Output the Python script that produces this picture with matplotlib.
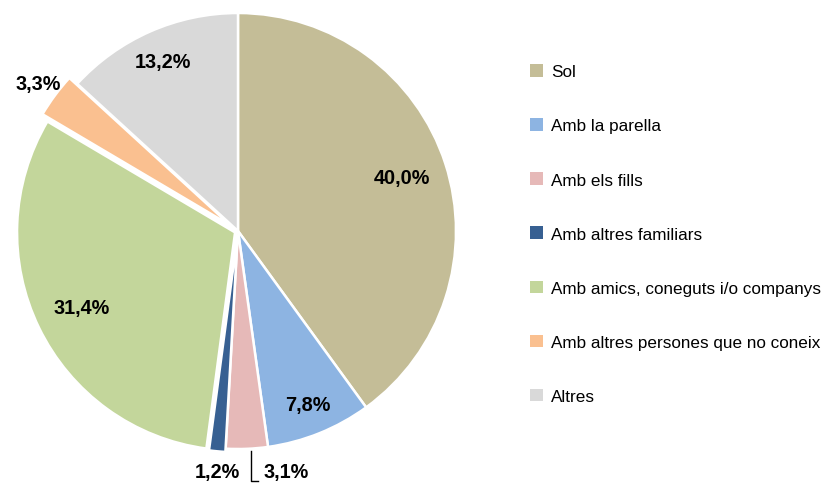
import numpy as np
import matplotlib.pyplot as plt
from matplotlib.patches import Rectangle
from matplotlib import font_manager

# Data
labels = ["Sol", "Amb la parella", "Amb els fills", "Amb altres familiars",
          "Amb amics, coneguts i/o companys", "Amb altres persones que no coneix", "Altres"]
values = [40.0, 7.8, 3.1, 1.2, 31.4, 3.3, 13.2]
pct_text = ["40,0%", "7,8%", "3,1%", "1,2%", "31,4%", "3,3%", "13,2%"]

colors = ["#C4BD97", "#8DB4E2", "#E6B9B8", "#376092", "#C3D69B", "#FAC090", "#D9D9D9"]
explode = [0, 0, 0, 0.015, 0.015, 0.045, 0]
label_r = [0.79, 0.86, 1.10, 1.10, 0.80, 1.14, 0.85]

names = {f.name for f in font_manager.fontManager.ttflist}
narrow = "Liberation Sans Narrow" in names
plt.rcParams['font.family'] = ['Liberation Sans Narrow', 'Liberation Sans', 'DejaVu Sans'] if narrow \
    else ['Liberation Sans', 'DejaVu Sans']
leg_fs = 13 if narrow else 12.3
pct_fs = 15 if narrow else 14.3

fig = plt.figure(figsize=(8.25, 4.85), dpi=100)
# pie centre at pixel (238, 232), radius 218 px
R = 218
half = 1.3
ax = fig.add_axes([(238 - R * half) / 825, (485 - 232 - R * half) / 485,
                   2 * R * half / 825, 2 * R * half / 485])

wedges, _ = ax.pie(values, colors=colors, startangle=90, counterclock=False,
                   explode=explode, radius=1,
                   wedgeprops=dict(edgecolor="white", linewidth=1.8))
ax.set_xlim(-half, half)
ax.set_ylim(-half, half)
ax.axis("off")

# Percentage labels
for i, w in enumerate(wedges):
    mid = np.deg2rad((w.theta1 + w.theta2) / 2)
    r = label_r[i]
    x, y = r * np.cos(mid), r * np.sin(mid)
    if i == 2:
        lx = 0.06
        ax.plot([lx, lx, lx + 0.03], [-1.01, -1.145, -1.145], color="black", lw=1)
        ax.text(lx + 0.055, -1.105, pct_text[i], ha="left", va="center",
                fontsize=pct_fs, fontweight="bold")
    elif i == 3:
        ax.text(x + 0.01, -1.105, pct_text[i], ha="center", va="center",
                fontsize=pct_fs, fontweight="bold")
    else:
        ax.text(x, y, pct_text[i], ha="center", va="center",
                fontsize=pct_fs, fontweight="bold")

# Legend
handles = [Rectangle((0, 0), 1, 1, facecolor=c, edgecolor="none") for c in colors]
fig.legend(handles, labels, loc="upper left", bbox_to_anchor=(0.643, 0.866),
           frameon=False, fontsize=leg_fs, handlelength=0.75, handleheight=0.75,
           handletextpad=0.45, labelspacing=2.28 if not narrow else 1.95,
           borderaxespad=0, borderpad=0)

fig.savefig("out.png", dpi=100)
plt.close(fig)
